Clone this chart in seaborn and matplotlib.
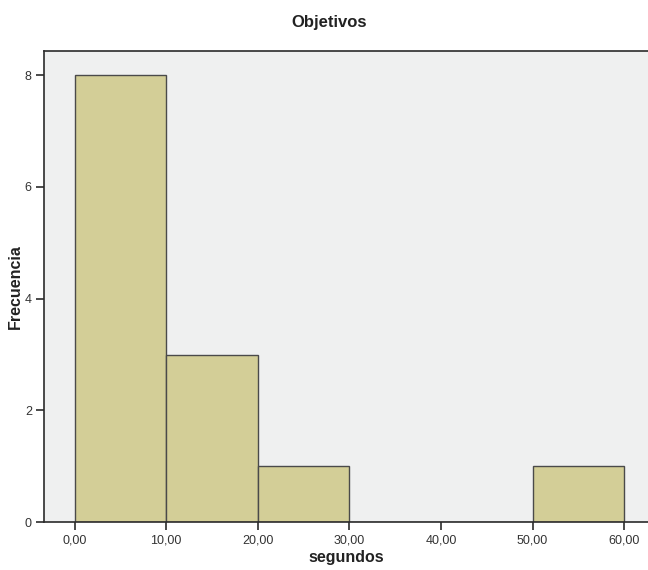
import matplotlib
matplotlib.use("Agg")
import matplotlib.pyplot as plt
import seaborn as sns
import numpy as np

# Histogram of goal times (seconds), binned in 10-second intervals
bin_edges = [0, 10, 20, 30, 40, 50, 60]
bin_mids = [5, 15, 25, 35, 45, 55]
frequencies = [8, 3, 1, 0, 0, 1]
x_ticks = [0, 10, 20, 30, 40, 50, 60]
x_tick_labels = ["0,00", "10,00", "20,00", "30,00", "40,00", "50,00", "60,00"]
y_ticks = [0, 2, 4, 6, 8]

sns.set_style("white")
plt.rcParams["font.family"] = ["Liberation Sans", "DejaVu Sans"]

fig = plt.figure(figsize=(6.48, 5.70), dpi=100)
ax = fig.add_axes([0.0684, 0.0837, 0.9316, 0.8268])
ax.set_facecolor("#EFF0F0")

sns.histplot(x=bin_mids, weights=frequencies, bins=bin_edges, ax=ax,
             color="#D3CE97", alpha=1.0, edgecolor="#4a4a4a", linewidth=1.0)

ax.set_xlim(-3.3, 62.6)
ax.set_ylim(0, 8.43)
ax.set_xticks(x_ticks)
ax.set_xticklabels(x_tick_labels)
ax.set_yticks(y_ticks)

for side in ["left", "bottom", "top"]:
    ax.spines[side].set_visible(True)
    ax.spines[side].set_color("#2b2b2b")
    ax.spines[side].set_linewidth(1.2)
ax.spines["right"].set_visible(False)

ax.tick_params(axis="both", which="major", direction="out", length=6,
               width=1.2, color="#2b2b2b", labelsize=9, labelcolor="#333333",
               bottom=True, left=True, pad=3)

ax.set_xlabel("segundos", fontsize=11.5, fontweight="bold", color="#222222", labelpad=2)
ax.set_ylabel("Frecuencia", fontsize=11.5, fontweight="bold", color="#222222")
ax.yaxis.set_label_coords(-0.035, 0.5)
fig.text(329 / 648, 1 - 22 / 570, "Objetivos", ha="center", va="center",
         fontsize=12, fontweight="bold", color="#222222")

fig.savefig("out.png", dpi=100)
